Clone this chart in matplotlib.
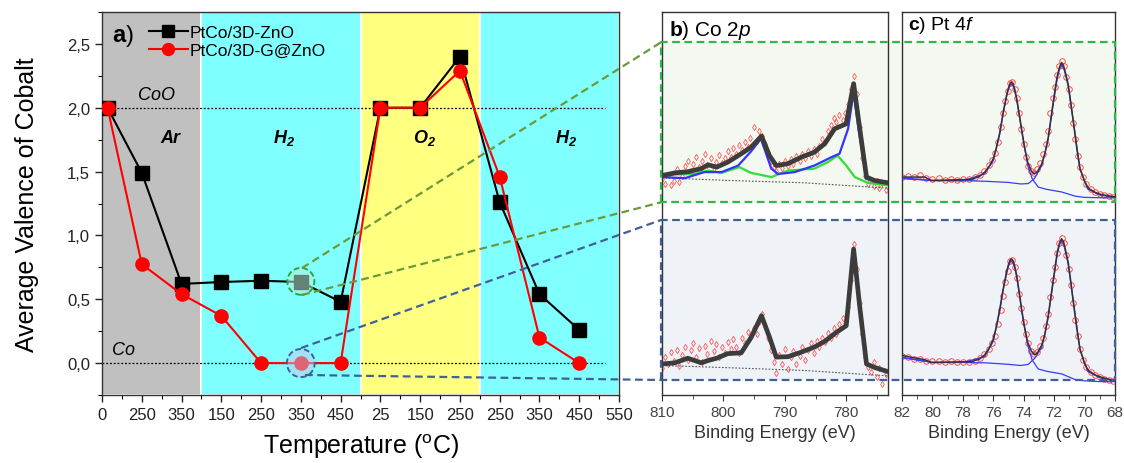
import matplotlib
matplotlib.use('Agg')
import matplotlib.pyplot as plt
from matplotlib.lines import Line2D
from matplotlib.patches import Ellipse, Rectangle
from matplotlib.ticker import MultipleLocator
import numpy as np

plt.rcParams['font.family'] = ['Liberation Sans', 'DejaVu Sans']
plt.rcParams['mathtext.fontset'] = 'custom'
plt.rcParams['mathtext.rm'] = 'Liberation Sans'
plt.rcParams['mathtext.it'] = 'Liberation Sans:italic'
plt.rcParams['mathtext.bf'] = 'Liberation Sans:bold'
plt.rcParams['mathtext.sf'] = 'Liberation Sans:italic:bold'

# ---- panel a: average Co valence along the gas/temperature sequence ----
temp_labels = ['0', '250', '350', '150', '250', '350', '450', '25', '150', '250',
               '250', '350', '450', '550']
step_pos = [0.14, 1, 2, 3, 4, 5, 6, 7, 8, 9, 10, 11, 12]
valence_zno = [2.0, 1.49, 0.62, 0.635, 0.645, 0.635, 0.48, 2.0, 2.0, 2.40, 1.26, 0.54, 0.26]
valence_gzno = [2.0, 0.775, 0.54, 0.37, 0.0, 0.0, 0.0, 2.0, 2.0, 2.29, 1.46, 0.20, 0.0]
gas_names = ['Ar', r'$\mathsf{H_2}$', r'$\mathsf{O_2}$', r'$\mathsf{H_2}$']
gas_edges = [0.0, 2.5, 6.5, 9.5, 13.0]
gas_colors = ['#c0c0c0', '#80ffff', '#ffff80', '#80ffff']

# ---- panel b: Co 2p (upper = PtCo/3D-ZnO at H2 350, lower = PtCo/3D-G@ZnO) ----
co_fit_e = [810.0, 807.9, 805.8, 803.6, 802.5, 801.1, 799.3, 797.1, 795.5, 793.8, 792.5,
            791.4, 789.5, 787.3, 785.2, 783.5, 781.9, 780.0, 778.8, 777.8, 776.7, 775.4, 773.2]
co_fit_up = [0.573, 0.580, 0.583, 0.591, 0.601, 0.595, 0.608, 0.630, 0.647, 0.676, 0.625,
             0.599, 0.604, 0.621, 0.634, 0.656, 0.695, 0.708, 0.813, 0.695, 0.569, 0.560, 0.554]
co_blue_e = [810.0, 806.3, 803.1, 800.3, 797.6, 795.5, 793.9, 792.2, 791.1, 788.4, 785.2,
             782.4, 781.1, 779.7, 778.8, 778.0, 776.7, 773.2]
co_blue_up = [0.569, 0.566, 0.582, 0.582, 0.599, 0.636, 0.669, 0.591, 0.577, 0.582, 0.599,
              0.621, 0.630, 0.695, 0.791, 0.695, 0.564, 0.554]
co_green_e = [810.0, 807.9, 804.7, 802.5, 800.3, 797.4, 795.5, 792.2, 789.5, 785.2, 783.0,
              781.4, 780.0, 778.6, 776.5, 773.2]
co_green_up = [0.573, 0.576, 0.577, 0.586, 0.580, 0.595, 0.580, 0.569, 0.586, 0.591, 0.608,
               0.625, 0.599, 0.569, 0.554, 0.547]
co_bg_e = [810.0, 798.7, 786.8, 773.2]
co_bg_up = [0.567, 0.560, 0.554, 0.540]
co_fit_low = [0.081, 0.084, 0.096, 0.084, 0.090, 0.096, 0.108, 0.110, 0.150, 0.207, 0.151,
              0.099, 0.100, 0.112, 0.125, 0.140, 0.160, 0.181, 0.381, 0.230, 0.081, 0.072, 0.061]
co_bg_low = [0.077, 0.071, 0.064, 0.050]

co_pts_e = [810.0, 809.5, 809.0, 808.6, 808.1, 807.6, 807.2, 806.7, 806.3, 805.8, 805.3,
            804.9, 804.4, 804.0, 803.5, 803.0, 802.6, 802.1, 801.6, 801.2, 800.7, 800.2,
            799.8, 799.3, 798.8, 798.4, 797.9, 797.4, 797.0, 796.5, 796.0, 795.6, 795.1,
            794.6, 794.2, 793.7, 793.2, 792.8, 792.3, 791.8, 791.4, 790.9, 790.4, 790.0,
            789.5, 789.0, 788.6, 788.1, 787.6, 787.2, 786.7, 786.2, 785.8, 785.3, 784.8,
            784.4, 783.9, 783.4, 783.0, 782.5, 782.0, 781.6, 781.1, 780.6, 780.2, 779.7,
            779.2, 778.8, 778.3, 777.8, 777.4, 776.9, 776.4, 776.0, 775.5, 775.0, 774.6,
            774.1, 773.6]
co_pts_up = [0.565, 0.552, 0.575, 0.548, 0.560, 0.590, 0.556, 0.572, 0.598, 0.612, 0.585,
             0.603, 0.622, 0.596, 0.610, 0.630, 0.601, 0.618, 0.593, 0.609, 0.627, 0.605,
             0.618, 0.636, 0.622, 0.645, 0.630, 0.652, 0.640, 0.661, 0.648, 0.672, 0.700,
             0.662, 0.690, 0.676, 0.655, 0.632, 0.612, 0.595, 0.585, 0.603, 0.592, 0.612,
             0.598, 0.616, 0.603, 0.625, 0.610, 0.630, 0.618, 0.637, 0.624, 0.642, 0.630,
             0.650, 0.668, 0.660, 0.690, 0.705, 0.722, 0.712, 0.730, 0.718, 0.735, 0.760,
             0.800, 0.832, 0.785, 0.700, 0.620, 0.572, 0.550, 0.562, 0.545, 0.558, 0.540,
             0.553, 0.535]
co_pts_low = [0.070, 0.100, 0.082, 0.112, 0.090, 0.118, 0.075, 0.104, 0.125, 0.092, 0.118,
              0.135, 0.100, 0.122, 0.086, 0.128, 0.108, 0.140, 0.115, 0.132, 0.098, 0.125,
              0.110, 0.138, 0.120, 0.145, 0.125, 0.110, 0.150, 0.135, 0.165, 0.148, 0.175,
              0.160, 0.190, 0.212, 0.180, 0.150, 0.118, 0.085, 0.058, 0.105, 0.080, 0.120,
              0.068, 0.098, 0.115, 0.080, 0.102, 0.125, 0.092, 0.118, 0.135, 0.110, 0.140,
              0.125, 0.150, 0.138, 0.162, 0.148, 0.175, 0.158, 0.185, 0.200, 0.188, 0.230,
              0.300, 0.395, 0.330, 0.240, 0.160, 0.100, 0.072, 0.060, 0.085, 0.048, 0.070,
              0.030, 0.055]

# ---- panel c: Pt 4f ----
pt_fit_e = [82.0, 80.5, 80.07, 77.43, 76.9, 76.56, 76.25, 76.0, 75.8, 75.57, 75.35, 75.13,
            75.0, 74.9, 74.8, 74.7, 74.6, 74.47, 74.3, 74.14, 73.95, 73.74, 73.5, 73.3, 73.1,
            72.82, 72.6, 72.39, 72.15, 71.95, 71.8, 71.65, 71.51, 71.38, 71.25, 71.07, 70.9,
            70.74, 70.5, 70.3, 70.0, 69.75, 69.3, 68.87, 68.0]
pt_fit_up = [0.569, 0.569, 0.560, 0.563, 0.571, 0.582, 0.598, 0.617, 0.645, 0.686, 0.738,
             0.782, 0.802, 0.813, 0.817, 0.812, 0.800, 0.776, 0.735, 0.695, 0.648, 0.608,
             0.585, 0.577, 0.583, 0.603, 0.632, 0.672, 0.740, 0.795, 0.832, 0.856, 0.868,
             0.860, 0.840, 0.810, 0.762, 0.713, 0.640, 0.591, 0.558, 0.540, 0.529, 0.523, 0.517]
pt_fit_low = [0.103, 0.092, 0.085, 0.087, 0.094, 0.105, 0.124, 0.146, 0.178, 0.225, 0.277,
              0.321, 0.341, 0.351, 0.355, 0.350, 0.338, 0.314, 0.270, 0.225, 0.178, 0.138,
              0.115, 0.105, 0.110, 0.130, 0.160, 0.207, 0.275, 0.330, 0.372, 0.397, 0.408,
              0.400, 0.378, 0.345, 0.295, 0.242, 0.170, 0.120, 0.082, 0.064, 0.052, 0.046, 0.037]
pt_c1_e = [82.0, 80.0, 78.0, 76.56, 76.0, 75.57, 75.35, 75.13, 75.0, 74.9, 74.8, 74.7, 74.6,
           74.47, 74.3, 74.14, 73.74, 73.45, 73.05, 72.5, 71.5, 70.6, 70.0, 69.0, 68.0]
pt_c1_up = [0.567, 0.560, 0.559, 0.578, 0.612, 0.682, 0.735, 0.778, 0.798, 0.808, 0.812,
            0.807, 0.795, 0.772, 0.732, 0.690, 0.600, 0.565, 0.543, 0.537, 0.530, 0.519,
            0.516, 0.515, 0.515]
pt_c1_low = [0.098, 0.085, 0.085, 0.100, 0.140, 0.220, 0.274, 0.316, 0.336, 0.346, 0.350,
             0.345, 0.333, 0.310, 0.266, 0.220, 0.130, 0.092, 0.068, 0.062, 0.055, 0.040,
             0.037, 0.035, 0.035]
pt_c2_e = [82.0, 80.0, 78.0, 76.5, 75.0, 74.2, 73.7, 73.3, 72.8, 72.4, 72.15, 71.95, 71.8,
           71.65, 71.51, 71.38, 71.25, 71.07, 70.9, 70.7, 70.3, 69.8, 69.0, 68.0]
pt_c2_up = [0.565, 0.560, 0.560, 0.558, 0.555, 0.551, 0.552, 0.565, 0.600, 0.665, 0.735,
            0.788, 0.825, 0.850, 0.862, 0.855, 0.835, 0.805, 0.757, 0.705, 0.590, 0.538,
            0.522, 0.516]
pt_c2_low = [0.098, 0.085, 0.085, 0.084, 0.080, 0.077, 0.080, 0.095, 0.125, 0.200, 0.270,
             0.325, 0.366, 0.392, 0.402, 0.395, 0.373, 0.340, 0.290, 0.235, 0.118, 0.062,
             0.045, 0.036]
pt_pts_e = [82.0, 81.6, 81.2, 80.8, 80.4, 80.0, 79.6, 79.2, 78.8, 78.4, 78.0, 77.6, 77.2,
            76.9, 76.6, 76.3, 76.1, 75.9, 75.7, 75.5, 75.35, 75.2, 75.05, 74.9, 74.75, 74.6,
            74.45, 74.3, 74.15, 74.0, 73.85, 73.7, 73.5, 73.3, 73.1, 72.9, 72.7, 72.55, 72.4,
            72.25, 72.1, 71.95, 71.8, 71.65, 71.5, 71.35, 71.2, 71.05, 70.9, 70.75, 70.6,
            70.45, 70.3, 70.1, 69.9, 69.6, 69.3, 69.0, 68.7, 68.4, 68.1]
pt_pts_up = [0.570, 0.572, 0.568, 0.574, 0.566, 0.563, 0.566, 0.561, 0.564, 0.562, 0.565,
             0.563, 0.568, 0.574, 0.585, 0.600, 0.614, 0.632, 0.660, 0.700, 0.735, 0.768,
             0.795, 0.815, 0.818, 0.800, 0.775, 0.735, 0.695, 0.655, 0.622, 0.598, 0.585,
             0.580, 0.590, 0.605, 0.628, 0.655, 0.690, 0.735, 0.775, 0.805, 0.835, 0.860,
             0.872, 0.858, 0.830, 0.800, 0.758, 0.710, 0.668, 0.625, 0.594, 0.570, 0.552,
             0.538, 0.530, 0.526, 0.523, 0.520, 0.518]
pt_pts_low = [0.103, 0.098, 0.094, 0.093, 0.090, 0.088, 0.090, 0.086, 0.088, 0.085, 0.087,
              0.086, 0.090, 0.096, 0.106, 0.120, 0.135, 0.155, 0.185, 0.222, 0.258, 0.295,
              0.325, 0.350, 0.352, 0.335, 0.305, 0.265, 0.228, 0.190, 0.160, 0.135, 0.115,
              0.106, 0.112, 0.128, 0.150, 0.180, 0.212, 0.255, 0.300, 0.335, 0.370, 0.398,
              0.410, 0.398, 0.365, 0.330, 0.288, 0.240, 0.195, 0.155, 0.120, 0.092, 0.074,
              0.060, 0.052, 0.047, 0.043, 0.040, 0.036]

W, H = 1124, 464
fig = plt.figure(figsize=(W / 100, H / 100), dpi=100)


def px(x, y):
    """pixel position (from top-left) -> figure fraction"""
    return x / W, 1 - y / H


ax_a = fig.add_axes([102 / W, 1 - 396 / H, 517 / W, 383 / H])
ax_b = fig.add_axes([662 / W, 1 - 396 / H, 226 / W, 383 / H])
ax_c = fig.add_axes([902 / W, 1 - 396 / H, 213 / W, 383 / H])

# ---------------- panel a ----------------
for lo, hi, c in zip(gas_edges[:-1], gas_edges[1:], gas_colors):
    ax_a.axvspan(lo, hi, facecolor=c, edgecolor='white', lw=1.2, zorder=0)
for yv in (0.0, 2.0):
    ax_a.plot([0, 12.65], [yv, yv], color='black', ls=(0, (1.5, 1.5)), lw=0.9, zorder=1)

ax_a.plot(step_pos, valence_zno, color='black', lw=1.5, marker='s', ms=9.5,
          label='PtCo/3D-ZnO', zorder=3)
ax_a.plot(step_pos, valence_gzno, color='red', lw=1.5, marker='o', ms=9.5,
          label='PtCo/3D-G@ZnO', zorder=4)

# highlighted samples shown in b/c
ax_a.add_patch(Ellipse((5, 0.64), 0.68, 0.21, facecolor='#b8f0d8', alpha=0.55,
                       edgecolor='none', zorder=5))
ax_a.add_patch(Ellipse((5, 0.64), 0.68, 0.21, facecolor='none', edgecolor='#22aa44',
                       ls=(0, (3, 1.5)), lw=1.4, zorder=6))
ax_a.add_patch(Ellipse((5, 0.0), 0.70, 0.22, facecolor='#c0c8f0', alpha=0.5,
                       edgecolor='none', zorder=5))
ax_a.add_patch(Ellipse((5, 0.0), 0.70, 0.22, facecolor='none', edgecolor='#40609a',
                       ls=(0, (3, 1.5)), lw=1.4, zorder=6))

ax_a.set_xlim(0, 13)
ax_a.set_ylim(-0.25, 2.75)
ax_a.set_xticks(range(len(temp_labels)))
ax_a.set_xticklabels(temp_labels)
ax_a.xaxis.set_minor_locator(MultipleLocator(0.5))
ax_a.set_yticks([0, 0.5, 1.0, 1.5, 2.0, 2.5])
ax_a.set_yticklabels(['0,0', '0,5', '1,0', '1,5', '2,0', '2,5'])
ax_a.yaxis.set_minor_locator(MultipleLocator(0.25))
ax_a.tick_params(which='major', direction='out', length=5, width=1, labelsize=12,
                 colors='#222222')
ax_a.tick_params(which='minor', direction='out', length=3, width=0.8)
for sp in ax_a.spines.values():
    sp.set_linewidth(1.0)
    sp.set_color('#333333')
ax_a.set_ylabel('Average Valence of Cobalt', fontsize=18, labelpad=20)
ax_a.set_xlabel(r'Temperature ($^{\rm o}$C)', fontsize=18, labelpad=7)

ax_a.text(0.53, 2.57, r'$\mathbf{a}$)', fontsize=17, ha='center', va='center')
ax_a.text(1.38, 2.10, 'CoO', fontsize=13, style='italic', ha='center', va='center')
ax_a.text(0.53, 0.11, 'Co', fontsize=13, style='italic', ha='center', va='center')
for name, xc in zip(gas_names, [1.71, 4.57, 8.12, 11.66]):
    ax_a.text(xc, 1.77, name, fontsize=13, style='italic', weight='bold',
              ha='center', va='center')
ax_a.legend(loc='upper left', bbox_to_anchor=(0.068, 0.998), frameon=False, fontsize=12.5,
            handlelength=2.2, handletextpad=0.15, labelspacing=0.15, borderpad=0.2,
            markerscale=0.9)

# ---------------- gas-flow boxes behind b and c ----------------
box_green = Rectangle(px(661, 203.3), 454 / W, 160 / H, transform=fig.transFigure,
                      facecolor='#f3f8f1', edgecolor='none', zorder=-1)
box_blue = Rectangle(px(661, 381), 454 / W, 160 / H, transform=fig.transFigure,
                     facecolor='#eff3f8', edgecolor='none', zorder=-1)
fig.add_artist(box_green)
fig.add_artist(box_blue)

for ax in (ax_b, ax_c):
    ax.set_facecolor('none')
    ax.set_ylim(0, 1)
    ax.set_yticks([])
    ax.tick_params(axis='x', which='both', direction='out', labelsize=11,
                   labelcolor='#444444', color='#333333')
    ax.tick_params(axis='x', which='major', length=4)
    ax.tick_params(axis='x', which='minor', length=3)
    for sp in ax.spines.values():
        sp.set_linewidth(1.0)
        sp.set_color('#333333')
    ax.set_xlabel('Binding Energy (eV)', fontsize=13, color='#333333', labelpad=3)

# ---------------- panel b ----------------
ax_b.plot(co_pts_e, co_pts_up, ls='none', marker='d', ms=3.2, mfc='none', mec='#ff3030',
          mew=0.6, alpha=0.8, zorder=2)
ax_b.plot(co_pts_e, co_pts_low, ls='none', marker='d', ms=3.2, mfc='none', mec='#ff3030',
          mew=0.6, alpha=0.8, zorder=2)
ax_b.plot(co_bg_e, co_bg_up, color='#555555', ls=(0, (1.5, 1.5)), lw=0.8, zorder=2)
ax_b.plot(co_bg_e, co_bg_low, color='#555555', ls=(0, (1.5, 1.5)), lw=0.8, zorder=2)
ax_b.plot(co_green_e, co_green_up, color='#33dd33', lw=1.6, zorder=3)
ax_b.plot(co_blue_e, co_blue_up, color='#3333ff', lw=1.6, zorder=3)
ax_b.plot(co_fit_e, co_fit_up, color='#3c3c3c', lw=3.4, zorder=4)
ax_b.plot(co_fit_e, co_fit_low, color='#3c3c3c', lw=3.4, zorder=4)
ax_b.set_xlim(810, 773.2)
ax_b.set_xticks([810, 800, 790, 780])
ax_b.xaxis.set_minor_locator(MultipleLocator(5))
ax_b.text(0.03, 0.955, r'$\mathbf{b}$) Co 2$\mathit{p}$', transform=ax_b.transAxes,
          fontsize=15, ha='left', va='center')

# ---------------- panel c ----------------
ax_c.plot(pt_pts_e, pt_pts_up, ls='none', marker='o', ms=4, mfc='none', mec='#ff3030',
          mew=0.7, alpha=0.85, zorder=2)
ax_c.plot(pt_pts_e, pt_pts_low, ls='none', marker='o', ms=4, mfc='none', mec='#ff3030',
          mew=0.7, alpha=0.85, zorder=2)
for comp_e, comp_up, comp_low in ((pt_c1_e, pt_c1_up, pt_c1_low),
                                  (pt_c2_e, pt_c2_up, pt_c2_low)):
    ax_c.plot(comp_e, comp_up, color='#3a3aff', lw=0.9, zorder=3)
    ax_c.plot(comp_e, comp_low, color='#3a3aff', lw=0.9, zorder=3)
ax_c.plot(pt_fit_e, pt_fit_up, color='#333333', lw=1.1, zorder=4)
ax_c.plot(pt_fit_e, pt_fit_low, color='#333333', lw=1.1, zorder=4)
ax_c.set_xlim(82, 68)
ax_c.set_xticks(np.arange(82, 67, -2))
ax_c.xaxis.set_minor_locator(MultipleLocator(1))
ax_c.text(0.027, 0.968, r'$\mathbf{c}$) Pt 4$\mathit{f}$', transform=ax_c.transAxes,
          fontsize=14, ha='left', va='center')

# ---------------- dashed outlines and zoom lines ----------------
dash = (0, (3.5, 2))
green_edge, green_link = '#2db84d', '#6a9a3a'
blue_edge = '#40609a'


def fig_line(pts, color, lw=1.6):
    xs, ys = zip(*[px(x, y) for x, y in pts])
    fig.add_artist(Line2D(xs, ys, transform=fig.transFigure, color=color, lw=lw,
                          ls=dash, zorder=10))


fig_line([(661, 203.3), (661, 43.3), (1115, 43.3), (1115, 203.3), (661, 203.3)], green_edge)
fig_line([(661, 381), (661, 221), (1115, 221), (1115, 381)], blue_edge)
fig_line([(302, 269), (661, 43.3)], green_link)
fig_line([(302, 296), (661, 203.3)], green_link)
fig_line([(301, 349), (661, 221)], blue_edge)
fig_line([(305, 376), (661, 381), (1115, 381)], blue_edge)

fig.savefig('out.png', dpi=100)
